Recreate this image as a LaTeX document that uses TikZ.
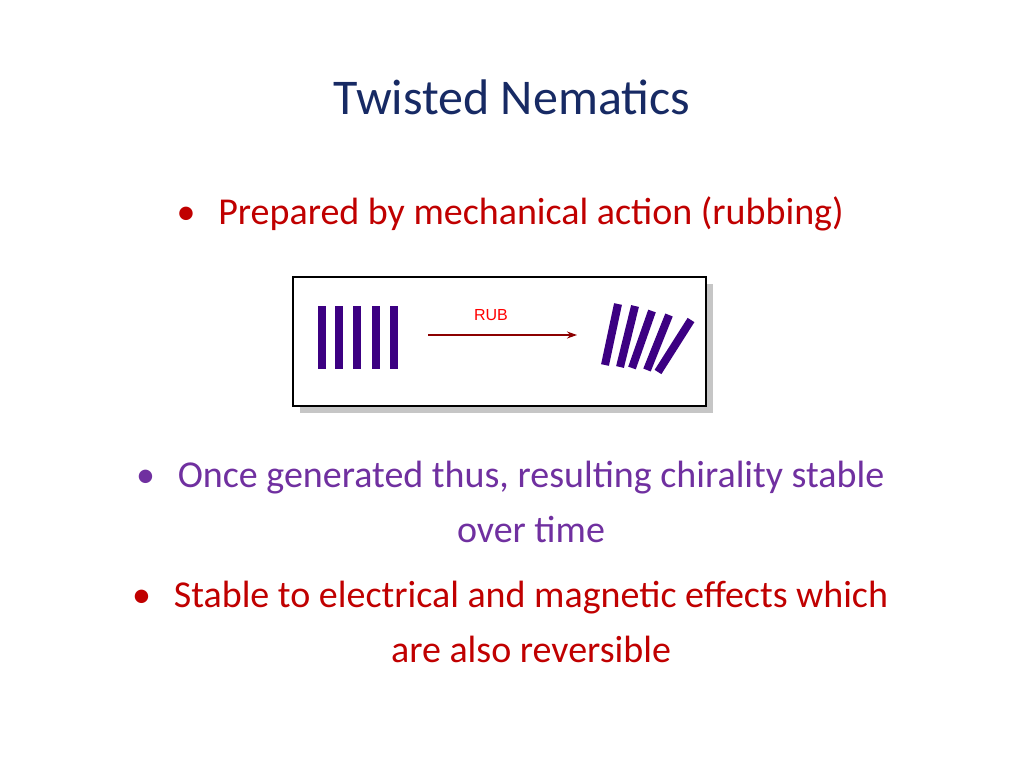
\documentclass[tikz,border=0pt]{standalone}
\usepackage{fontspec}
\setmainfont{Carlito}
\newfontfamily\rubfont{Liberation Sans}
\usetikzlibrary{arrows.meta}
\definecolor{titleblue}{RGB}{23,42,100}
\definecolor{bred}{RGB}{192,0,0}
\definecolor{bpurple}{RGB}{112,48,160}
\definecolor{barc}{RGB}{60,0,130}
\definecolor{arrc}{RGB}{140,0,0}
\tikzset{
  body/.style={font=\fontsize{38}{55}\selectfont, align=center, anchor=center},
  bar/.style={barc, line width=8pt},
}
\begin{document}
\begin{tikzpicture}[x=1pt,y=-1pt]
\useasboundingbox (0,0) rectangle (1024,768);
\node[font=\fontsize{50}{60}\selectfont, text=titleblue] (title) at (512,97) {Twisted Nematics};
\node[body, text=bred] (b1) at (531,214) {\makebox[0pt][r]{\textbullet\hspace{0.6em}}Prepared by mechanical action (rubbing)};
\fill[gray!45] (300,284) rectangle (713,413);
\draw[line width=1.5pt, fill=white] (293,277) rectangle (706,406);
\foreach \x in {322,339,357,376,394} \draw[bar] (\x,306) -- (\x,369);
\draw[bar] (618,304) -- (605,365);
\draw[bar] (635,306) -- (620,367);
\draw[bar] (652,311) -- (632,368);
\draw[bar] (669,315) -- (647,370);
\draw[bar] (691,320) -- (658,372);
\coordinate (a1) at (428,335);
\coordinate (a2) at (577,335);
\draw[arrc, line width=1.2pt, -{Stealth[length=10pt,width=7pt]}] (a1) -- (a2);
\node[text=red, font=\rubfont\fontsize{16}{18}\selectfont] (rub) at (491,315) {RUB};
\node[body, text=bpurple] (b2) at (531,502) {\makebox[0pt][r]{\textbullet\hspace{0.6em}}Once generated thus, resulting chirality stable\\over time};
\node[body, text=bred] (b3) at (531,622) {\makebox[0pt][r]{\textbullet\hspace{0.6em}}Stable to electrical and magnetic effects which\\are also reversible};
\end{tikzpicture}
\end{document}
